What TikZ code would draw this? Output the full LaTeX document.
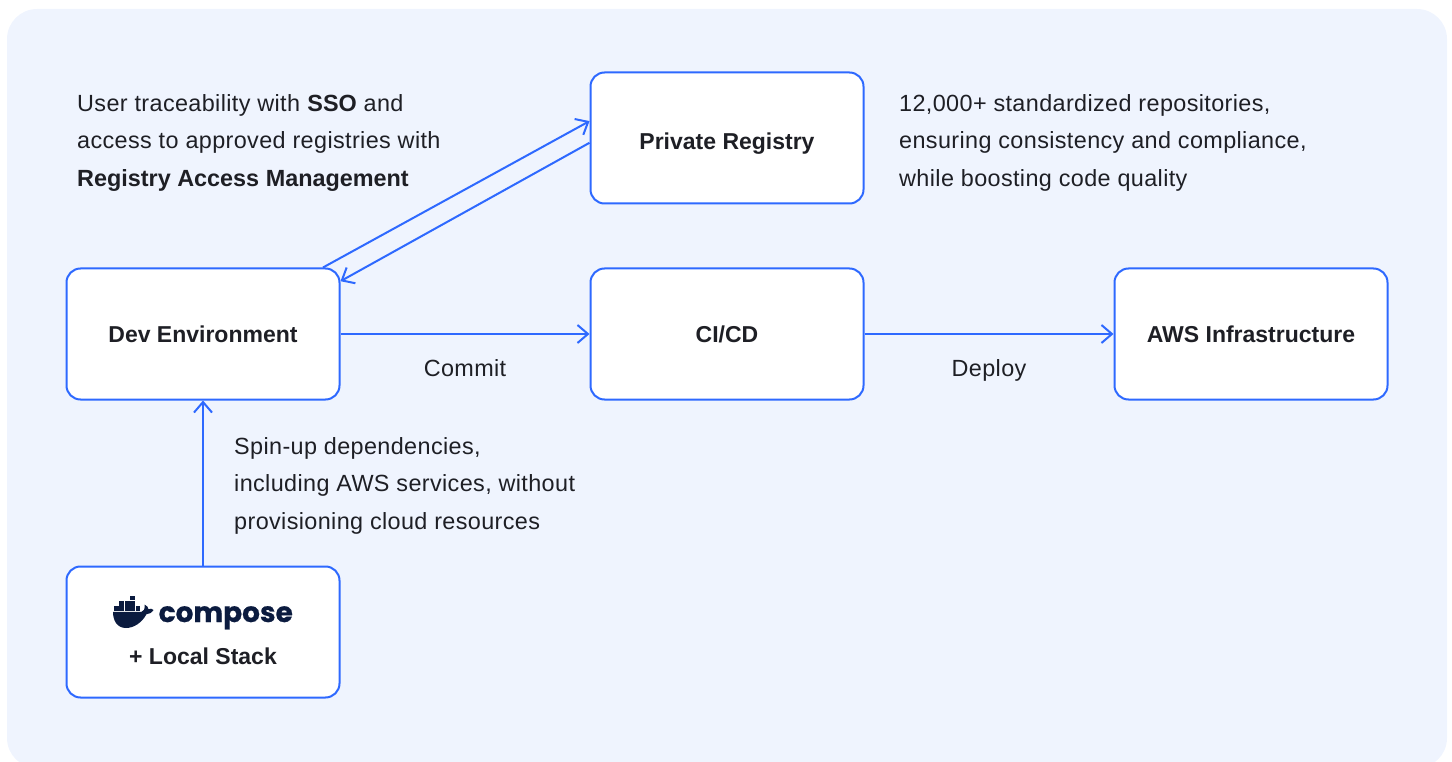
\documentclass[tikz,border=0pt]{standalone}
\usepackage{fontspec}
\usepackage{xcolor}
\setmainfont{Liberation Sans}
\newfontfamily\notefont[LetterSpace=1.6,BoldFeatures={LetterSpace=0}]{Liberation Sans}
\newfontfamily\logofont[BoldFeatures={FakeBold=0.6}]{Poppins}
\usetikzlibrary{arrows.meta}
\definecolor{panelblue}{HTML}{EFF4FE}
\definecolor{linkblue}{HTML}{2E69FF}
\definecolor{inkgray}{HTML}{1E1F25}
\definecolor{logonavy}{HTML}{0B1B3F}
\tikzset{
	box/.style={draw=linkblue,fill=white,line width=2pt,rounded corners=14pt,minimum width=273pt,minimum height=131pt,inner sep=0pt,text=inkgray,text height=17pt,text depth=0pt,font=\fontsize{23}{28}\selectfont\bfseries},
	note/.style={anchor=west,align=left,inner sep=0pt,text=inkgray,font=\notefont\fontsize{23.4}{37.5}\selectfont},
	tag/.style={inner sep=0pt,text=inkgray,text height=17pt,text depth=0pt,font=\notefont\fontsize{23.4}{28}\selectfont},
	link/.style={draw=linkblue,line width=2pt,-{Straight Barb[length=10.5pt,width=18pt,line width=2pt]}}
}
\begin{document}
\begin{tikzpicture}[x=1pt,y=-1pt]
	\useasboundingbox (0,0) rectangle (1452,762);
	\begin{scope}
		\clip (0,0) rectangle (1452,762);
		\fill[panelblue,rounded corners=30pt] (7,9) rectangle (1447,768);
	\end{scope}

	\node[box,text height=23pt] (registry) at (727,138) {Private Registry};
	\node[box] (dev) at (203,334) {Dev Environment};
	\node[box] (cicd) at (727,334) {CI/CD};
	\node[box] (aws) at (1251,334) {AWS Infrastructure};
	\node[box] (stack) at (203,632) {};

	\node[note] (ssonote) at (77,143) {User traceability with \textbf{SSO} and\\access to approved registries with\\\textbf{Registry Access Management}};
	\node[note] (reponote) at (899,142.5) {12,000+ standardized repositories,\\ensuring consistency and compliance,\\while boosting code quality};
	\node[note] (spinnote) at (234,485.5) {Spin-up dependencies,\\including AWS services, without\\provisioning cloud resources};
	\node[tag] (commit) at (465,368) {Commit};
	\node[tag] (deploy) at (989,368) {Deploy};
	\node[inner sep=0pt,text=inkgray,font=\fontsize{23}{28}\selectfont\bfseries] (local) at (203,656) {+ Local Stack};
	\node[inner sep=0pt,anchor=base west,text=logonavy,font=\logofont\fontsize{28}{30}\selectfont\bfseries] (compose) at (158.5,622) {compose};

	% whale
	\fill[logonavy] (113,611.8) -- (141.5,611.8) .. controls (144,611.5) and (145,609) .. (144.5,604.5)
		.. controls (147,605.5) and (148.5,607.5) .. (148.5,609.3) .. controls (150,608.3) and (152,608.5) .. (153.5,610)
		.. controls (151.5,613) and (149,614.2) .. (146.5,614.2) .. controls (142,622.5) and (134,628) .. (126,628)
		.. controls (117,628) and (113,620.5) .. (113,611.8) -- cycle;
	\foreach \col in {0,...,4}
		\fill[logonavy] (114+\col*5.4,606.3) rectangle ++(4.7,4.7);
	\foreach \col in {1,...,3}
		\fill[logonavy] (114+\col*5.4,601) rectangle ++(4.7,4.7);
	\fill[logonavy] (130.2,595.7) rectangle ++(4.7,4.7);

	\draw[link] (dev.29) -- (registry.173.3);
	\draw[link] (registry.182.9) -- (dev.21.1);
	\draw[link] (dev) -- (cicd);
	\draw[link] (cicd) -- (aws);
	\draw[link] (stack) -- (dev);
\end{tikzpicture}
\end{document}
